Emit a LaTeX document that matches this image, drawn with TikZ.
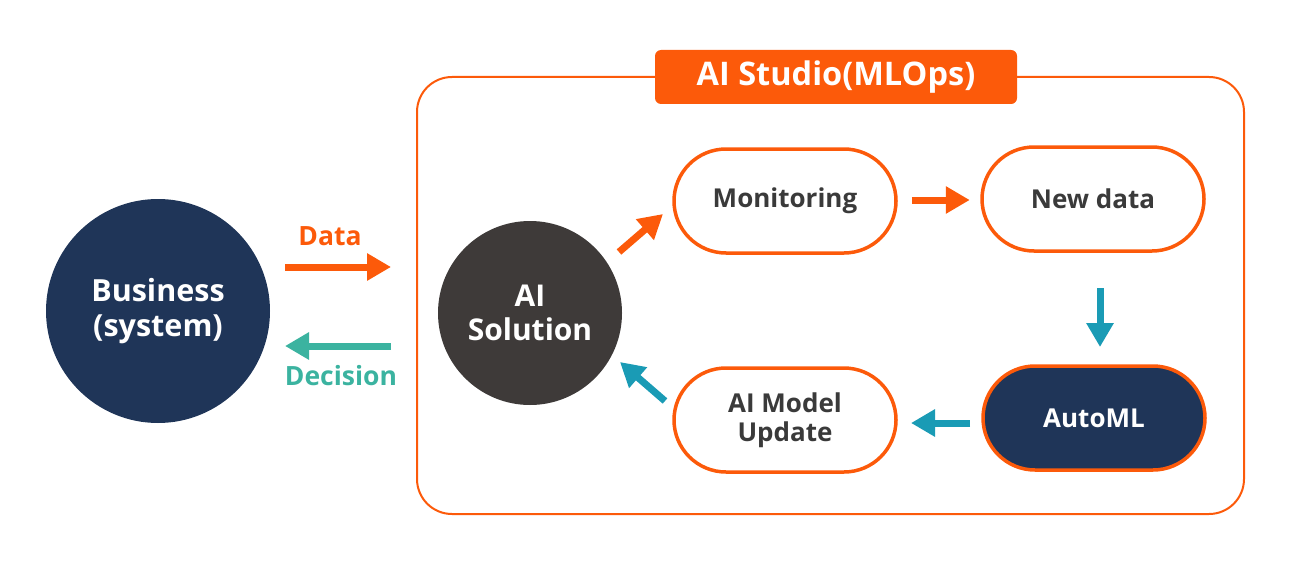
\documentclass[tikz,border=0pt]{standalone}
\usepackage{fontspec}
\setmainfont{Open Sans}
\usetikzlibrary{arrows.meta}
\definecolor{navy}{HTML}{1F3558}
\definecolor{org}{HTML}{FC5A0A}
\definecolor{teal1}{HTML}{3BB3A0}
\definecolor{teal2}{HTML}{1A9BB5}
\definecolor{dgray}{HTML}{3E3A39}
\definecolor{txt}{HTML}{3A3A3A}
\begin{document}
\begin{tikzpicture}[x=1pt,y=-1pt,
  pill/.style={draw=org,line width=3.5pt,rounded corners=52pt,minimum width=222pt,minimum height=104pt,inner sep=0pt,align=center,font=\fontsize{26}{29}\selectfont\bfseries},
  arr/.style={line width=7pt,-{Triangle[length=24pt,width=26pt]}},
  lbl/.style={font=\fontsize{26.5}{30}\selectfont\bfseries}
]
\useasboundingbox (0,0) rectangle (1305,575);
\draw[org,line width=2pt,rounded corners=35pt] (417,77) rectangle (1244,514);
\node[fill=org,rounded corners=6pt,minimum width=362pt,minimum height=54pt,text=white,font=\fontsize{32.5}{36}\selectfont\bfseries] (title) at (836,77) {AI Studio(MLOps)};
\node[circle,fill=navy,minimum size=224pt,inner sep=0pt,text=white,align=center,font=\fontsize{30.5}{35}\selectfont\bfseries] (biz) at (158,311) {Business\\(system)};
\node[circle,fill=dgray,minimum size=184pt,inner sep=0pt,text=white,align=center,font=\fontsize{30}{34}\selectfont\bfseries] (sol) at (530,313) {AI\\Solution};
\node[pill,fill=white,text=txt] (mon) at (785,201) {Monitoring};
\node[pill,fill=white,text=txt] (new) at (1093,199) {New data};
\node[pill,fill=navy,text=white] (auto) at (1094,418) {AutoML};
\node[pill,fill=white,text=txt] (upd) at (785,420) {AI Model\\Update};
\coordinate (d1) at (285,267); \coordinate (d2) at (391,267);
\coordinate (e1) at (391,346); \coordinate (e2) at (285,346);
\draw[arr,org] (d1) -- (d2);
\draw[arr,teal1] (e1) -- (e2);
\node[lbl,text=org] (dl) at (330,236) {Data};
\node[lbl,text=teal1] (el) at (341,376) {Decision};
\draw[arr,org] (mon.east) ++(14,-1) coordinate (m1) -- ++(58,0);
\draw[arr,teal2] (1100,288) coordinate (n1) -- (1100,347);
\draw[arr,teal2] (970,423) coordinate (a1) -- (911,423);
\draw[arr,org] (619,252) coordinate (s1) -- (663,214);
\draw[arr,teal2] (665,401) coordinate (u1) -- (620,362);
\end{tikzpicture}
\end{document}
